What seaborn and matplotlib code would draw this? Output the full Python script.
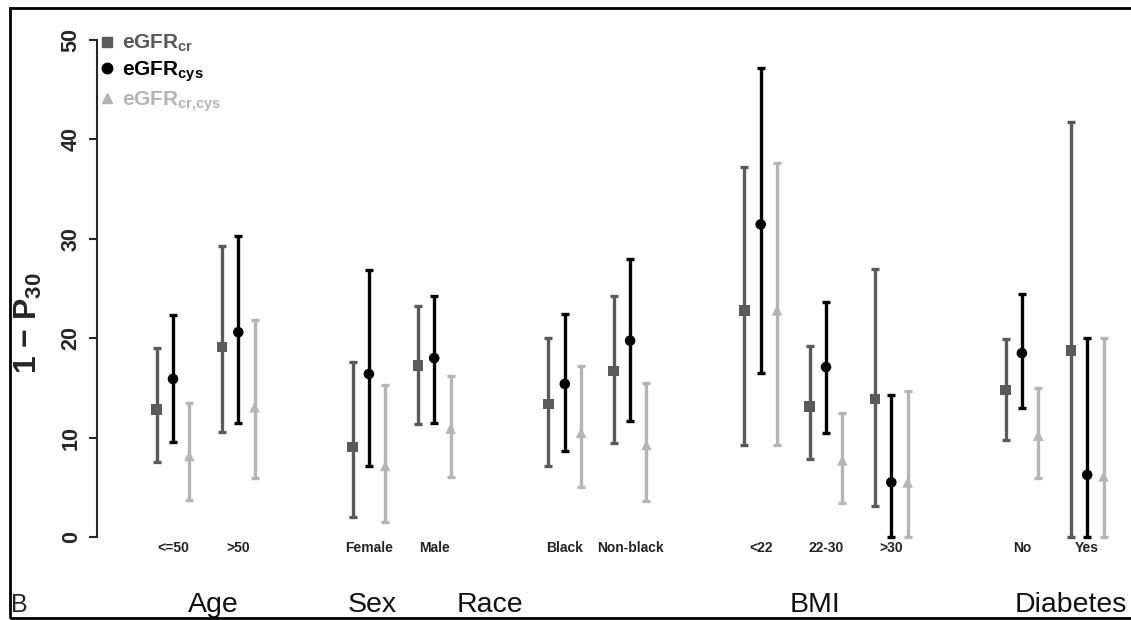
import numpy as np
import pandas as pd
import matplotlib
matplotlib.use("Agg")
import matplotlib.pyplot as plt
import seaborn as sns
from matplotlib.lines import Line2D
from matplotlib.patches import Rectangle

# subgroups, in plotting order, with the group they belong to
groups = ["Age", "Age", "Sex", "Sex", "Race", "Race", "BMI", "BMI", "BMI", "Diabetes", "Diabetes"]
subgroups = ["<=50", ">50", "Female", "Male", "Black", "Non-black", "<22", "22-30", ">30", "No", "Yes"]

# 1 - P30 estimates with 95% CI
cr_est = [12.8, 19.1, 9.05, 17.25, 13.4, 16.7, 22.8, 13.1, 13.9, 14.8, 18.75]
cr_lo = [7.5, 10.6, 2.0, 11.4, 7.1, 9.5, 9.3, 7.8, 3.1, 9.75, 0.0]
cr_hi = [19.0, 29.3, 17.6, 23.2, 20.05, 24.25, 37.2, 19.2, 27.0, 19.9, 41.8]

cys_est = [15.9, 20.6, 16.4, 18.0, 15.4, 19.75, 31.45, 17.1, 5.5, 18.5, 6.25]
cys_lo = [9.6, 11.5, 7.1, 11.5, 8.7, 11.7, 16.5, 10.5, 0.0, 13.0, 0.0]
cys_hi = [22.3, 30.3, 26.9, 24.2, 22.4, 28.0, 47.15, 23.6, 14.3, 24.45, 20.05]

crcys_est = [8.15, 13.05, 7.15, 10.9, 10.5, 9.25, 22.8, 7.7, 5.5, 10.2, 6.1]
crcys_lo = [3.7, 5.9, 1.55, 6.0, 5.05, 3.65, 9.3, 3.4, 0.0, 5.9, 0.0]
crcys_hi = [13.45, 21.8, 15.3, 16.2, 17.2, 15.45, 37.6, 12.5, 14.7, 14.95, 20.05]

series = ["cr", "cys", "crcys"]
legend_labels = [r"eGFR$_\mathrm{cr}$", r"eGFR$_\mathrm{cys}$", r"eGFR$_\mathrm{cr{,}cys}$"]
colors = {"cr": "#5a5a5a", "cys": "#000000", "crcys": "#b5b5b5"}
markers = {"cr": "s", "cys": "o", "crcys": "^"}
offsets = {"cr": -0.25, "cys": 0.0, "crcys": 0.25}

# x position of each subgroup: one empty slot between groups
pos = []
x = 0
prev = None
for g in groups:
    x += 1 if (prev is None or g == prev) else 2
    pos.append(x)
    prev = g

rows = []
vals = {"cr": (cr_est, cr_lo, cr_hi), "cys": (cys_est, cys_lo, cys_hi), "crcys": (crcys_est, crcys_lo, crcys_hi)}
for s in series:
    est, lo, hi = vals[s]
    for i in range(len(subgroups)):
        rows.append({"series": s, "subgroup": subgroups[i], "x": pos[i] + offsets[s],
                     "est": est[i], "lo": lo[i], "hi": hi[i]})
df = pd.DataFrame(rows)

sns.set_style("ticks")
plt.rcParams['font.family'] = ['Liberation Sans', 'DejaVu Sans']
plt.rcParams['mathtext.fontset'] = 'custom'
plt.rcParams['mathtext.rm'] = 'Liberation Sans:bold'
plt.rcParams['mathtext.it'] = 'Liberation Sans:bold'
plt.rcParams['mathtext.bf'] = 'Liberation Sans:bold'

fig = plt.figure(figsize=(11.31, 6.2), dpi=100)
ax = fig.add_axes([97 / 1131, 83 / 620, 1 - 97 / 1131, 497 / 620])

for s in series:
    d = df[df["series"] == s]
    ax.errorbar(d["x"], d["est"], yerr=[d["est"] - d["lo"], d["hi"] - d["est"]],
                fmt="none", ecolor=colors[s], elinewidth=2.4, capsize=3, capthick=2.4,
                clip_on=False, zorder=2)

sns.scatterplot(data=df, x="x", y="est", hue="series", style="series",
                palette=colors, markers=markers, s=58, linewidth=0,
                legend=False, ax=ax, zorder=3, clip_on=False)

ax.set_xlim(1 + (97 - 173) / 65.3, 1 + (1131 - 173) / 65.3)
ax.set_ylim(0, 50)
ax.set_yticks([0, 10, 20, 30, 40, 50])
ax.set_yticklabels(["0", "10", "20", "30", "40", "50"], rotation=90, va="center",
                   fontsize=15.5, fontweight="bold")
ax.tick_params(axis="y", length=6, width=1.5, pad=5)
ax.set_xticks([])
ax.set_xlabel("")
ax.set_ylabel("")
for sp in ["top", "right", "bottom"]:
    ax.spines[sp].set_visible(False)
ax.spines["left"].set_linewidth(1.5)

# subgroup labels under each cluster
for i, lab in enumerate(subgroups):
    ax.text(pos[i], -1.1, lab, ha="center", va="center", fontsize=10,
            fontweight="bold", color="#222222", clip_on=False)

# group labels
group_names = ["Age", "Sex", "Race", "BMI", "Diabetes"]
group_x = [1.61, 4.05, 5.86, 10.83, 14.75]
for gx, gn in zip(group_x, group_names):
    ax.text(gx, -6.85, gn, ha="center", va="center", fontsize=20.5, clip_on=False,
            color="#111111")

fig.text(28 / 1131, 1 - 323 / 620, r"1 $-$ P$_{30}$", rotation=90, ha="center",
         va="center", fontsize=23, fontweight="bold")
fig.text(11 / 1131, 1 - 605 / 620, "B", ha="left", va="center", fontsize=18)

handles = [Line2D([], [], ls="none", marker=markers[s], color=colors[s], markersize=7.5)
           for s in series]
leg = ax.legend(handles, legend_labels, loc="upper left",
                bbox_to_anchor=(100 / 1131, 1 - 33 / 620), bbox_transform=fig.transFigure,
                frameon=False, handlelength=0.7, handletextpad=0.35, borderpad=0,
                borderaxespad=0, labelspacing=0.25, prop={"size": 15, "weight": "bold"})
for t, s in zip(leg.get_texts(), series):
    t.set_color(colors[s])

fig.patches.append(Rectangle((10 / 1131, 2.5 / 620), 1.2, 1 - 10.5 / 620,
                             transform=fig.transFigure, fill=False, lw=2, ec="black",
                             clip_on=False))

fig.savefig("out.png", dpi=100)
